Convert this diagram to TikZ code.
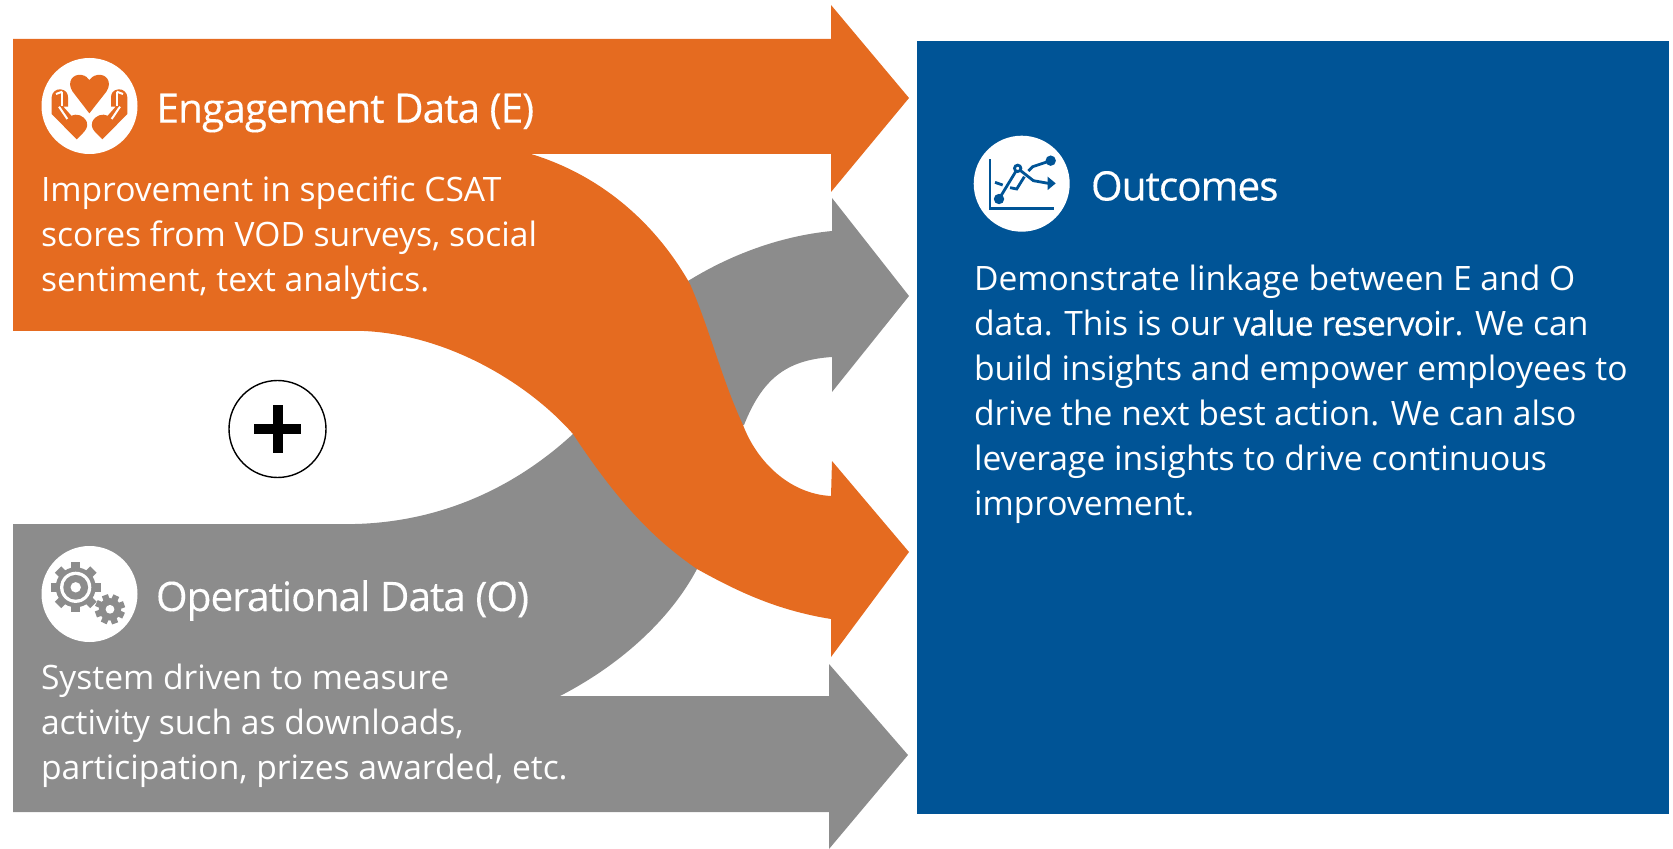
\documentclass[tikz,border=0pt]{standalone}
\usepackage{fontspec}
\setmainfont{Open Sans}
\newfontfamily\ttlfont{Open Sans}[LetterSpace=-2.5,FakeBold=0.25]
\newfontfamily\boldpart{Open Sans}[LetterSpace=-2.5,FakeBold=0.3]
\definecolor{eorange}{HTML}{E56B20}
\definecolor{ogray}{HTML}{8C8C8C}
\definecolor{oblue}{HTML}{005496}
\tikzset{
  bodytext/.style={anchor=north west,inner sep=0pt,outer sep=0pt,text=white,align=left,font=\fontsize{16.8}{22.5}\selectfont},
  titletext/.style={anchor=base west,inner sep=0pt,outer sep=0pt,text=white,font=\ttlfont\fontsize{20.3}{24}\selectfont},
  iconbg/.style={fill=white,draw=none},
}
\newcommand{\fl}{\rule{0pt}{12pt}}
\begin{document}
\begin{tikzpicture}[x=0.5pt,y=-0.5pt]
\useasboundingbox (0,0) rectangle (1673,849);
% blue panel
\fill[oblue] (917,41) rectangle (1669,814);
% gray arrows
\fill[ogray] (13,812) -- (13,524) -- (355,524) .. controls (435,522) and (510,492) .. (573,434)
  -- (744,425) .. controls (762,380) and (785,360) .. (832,357)
  -- (832,392) -- (909,296) -- (832,198) -- (832,231)
  .. controls (780,236) and (730,255) .. (688,281)
  -- (697,569) .. controls (670,620) and (620,665) .. (560,696)
  -- (829,696) -- (829,664) -- (908,755) -- (829,849) -- (829,812) -- cycle;
% orange arrows
\fill[eorange] (13,39) -- (831,39) -- (831,5) -- (909,98) -- (831,192) -- (831,154)
  -- (531,154) .. controls (600,175) and (655,222) .. (690,284)
  .. controls (710,330) and (722,380) .. (743,425)
  .. controls (757,462) and (790,494) .. (831,496)
  -- (832,461) -- (909,552) -- (831,657) -- (831,619)
  .. controls (775,610) and (735,590) .. (697,569)
  .. controls (655,540) and (620,505) .. (573,434)
  .. controls (530,385) and (450,335) .. (364,331)
  -- (13,331) -- cycle;
% plus
\node[circle,draw=black,fill=white,line width=0.7pt,minimum size=48.5pt,inner sep=0pt] (plus) at (277.5,429) {};
\fill[black] (254,424) rectangle (301,434);
\fill[black] (272.5,405.5) rectangle (282.5,452.5);
% engagement icon
\node[circle,iconbg,minimum size=48pt,inner sep=0pt] (iconE) at (89.5,106) {};
\begin{scope}[shift={(30,50)},x=0.1667pt,y=-0.1667pt]
  \fill[eorange] (178,190) -- (128,125) .. controls (108,95) and (130,70) .. (155,75) .. controls (167,77) and (174,84) .. (178,90) .. controls (182,84) and (190,77) .. (202,75) .. controls (227,70) and (249,95) .. (229,125) -- cycle;
  \foreach \m/\o in {1/0,-1/357}{
  \begin{scope}[shift={(\o,0)},xscale=\m]
    \fill[eorange] (140,268) -- (65,192) -- (65,142) .. controls (65,128) and (78,116) .. (92,118) .. controls (108,120) and (114,130) .. (114,142) -- (114,170) -- (100,170) -- (124,197) .. controls (140,190) and (160,195) .. (170,215) .. controls (176,232) and (165,242) .. (158,250) -- cycle;
    \draw[white,line width=1pt] (87,170) -- (112,207);
    \draw[white,line width=1pt] (97,125) -- (97,168);
    \draw[white,line width=1pt] (78,132) -- (97,125);
  \end{scope}}
\end{scope}
% gears icon
\node[circle,iconbg,minimum size=48pt,inner sep=0pt] (iconO) at (89.5,594) {};
\foreach \a in {0,45,...,315}{
  \fill[ogray,shift={(75.7,587.3)},rotate=\a] (-4.5,-25) rectangle (4.5,-15);
  \fill[ogray,shift={(110,609.3)},rotate=\a+20] (-3.2,-15) rectangle (3.2,-8);
}
\fill[ogray] (75.7,587.3) circle[radius=10pt];
\fill[white] (75.7,587.3) circle[radius=7.8pt];
\fill[ogray] (75.7,587.3) circle[radius=6.2pt];
\fill[white] (75.7,587.3) circle[radius=2.6pt];
\fill[ogray] (110,609.3) circle[radius=5.6pt];
\fill[white] (110,609.3) circle[radius=2.2pt];
% outcomes icon
\node[circle,iconbg,minimum size=48pt,inner sep=0pt] (iconR) at (1021.7,183.7) {};
\begin{scope}[shift={(960,120)},x=0.1667pt,y=-0.1667pt]
  \draw[oblue,line width=1.2pt] (90,118) -- (90,265) -- (283,265);
  \draw[oblue,line width=1.4pt] (117,237) -- (173,145) -- (220,182) -- (265,190);
  \fill[oblue] (263,170) -- (287,190) -- (263,210) -- cycle;
  \fill[oblue] (117,237) circle[radius=2.6pt];
  \filldraw[fill=white,draw=oblue,line width=1.4pt] (173,145) circle[radius=1.6pt];
  \draw[oblue,line width=1.4pt] (105,187) -- (128,195);
  \draw[oblue,line width=1.4pt] (150,203) -- (170,207) -- (193,170);
  \draw[oblue,line width=1.4pt] (205,153) -- (218,140) -- (272,122);
  \fill[oblue] (272,122) circle[radius=2.6pt];
\end{scope}
% texts
\node[titletext] (ttlE) at (156.5,122.7) {Engagement Data (E)};
\node[bodytext] (txtE) at (41,175.5) {\fl Improvement in specific CSAT\\scores from VOD surveys, social\\sentiment, text analytics.};
\node[titletext] (ttlO) at (156,611) {Operational Data (O)};
\node[bodytext] (txtO) at (41,663.5) {\fl System driven to measure\\activity such as downloads,\\participation, prizes awarded, etc.};
\node[titletext] (ttlR) at (1091,200.5) {Outcomes};
\node[bodytext] (txtR) at (974,265) {\fl Demonstrate linkage between E and O\\data. This is our {\boldpart\fontsize{16.8}{22.5}\selectfont value reservoir}. We can\\build insights and empower employees to\\drive the next best action. We can also\\leverage insights to drive continuous\\improvement.};
\end{tikzpicture}
\end{document}
